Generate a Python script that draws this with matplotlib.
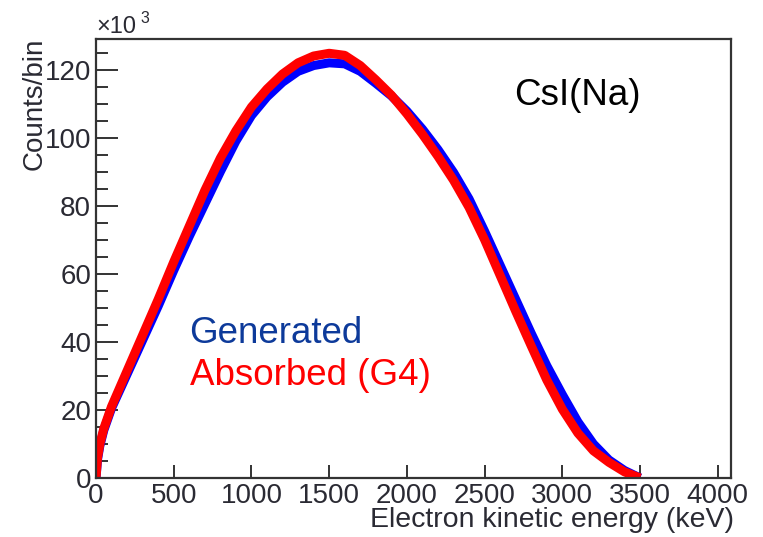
import numpy as np
import matplotlib
matplotlib.use('Agg')
import matplotlib.pyplot as plt

plt.rcParams['font.family'] = ['Liberation Sans', 'DejaVu Sans']

# energies in keV, counts in units of 10^3
energy = [0, 10, 25, 50, 100, 200, 300, 400, 500, 600, 700, 800, 900, 1000, 1100, 1200,
          1300, 1400, 1500, 1600, 1700, 1800, 1900, 2000, 2100, 2200, 2300, 2400,
          2500, 2600, 2700, 2800, 2900, 3000, 3100, 3200, 3300, 3400, 3500]
generated = [0, 5.5, 9.5, 14, 20.5, 30.5, 40.5, 50.5, 61, 71, 80.5, 90, 99, 106.5, 112, 116.3,
             119.5, 121.2, 122, 121.7, 119.5, 116, 112.3, 107.8, 102.5, 96.5, 89.8, 82,
             72.5, 62.5, 52.5, 42.5, 33, 24.5, 16.5, 10, 5.3, 2.2, 0]
absorbed = [0, 6, 10, 14.5, 21, 31.5, 42, 52.5, 63.5, 74, 84.5, 94, 102, 109, 114.3, 118.7,
            122, 124, 124.8, 124.2, 121.2, 117, 112.5, 107, 101, 94.5, 87.5, 79.5,
            70, 59.5, 49, 38.8, 28.8, 20.2, 13.2, 8, 4.6, 1.8, 0]

W, H = 763, 537
fig = plt.figure(figsize=(W / 100, H / 100), dpi=100)
ax = fig.add_axes([96 / W, 1 - 478 / H, (731 - 96) / W, (478 - 39) / H])

ax.plot(energy, generated, color='#0000ff', lw=6.5, solid_capstyle='butt')
ax.plot(energy, absorbed, color='#ff0000', lw=6.5, solid_capstyle='butt')

ax.set_xlim(0, 4085)
ax.set_ylim(0, 129)
ax.set_xticks(np.arange(0, 4001, 500))
ax.set_yticks(np.arange(0, 121, 20))
ax.set_yticks(np.arange(0, 129, 5), minor=True)

for s in ax.spines.values():
    s.set_linewidth(1.6)
    s.set_color('#333333')

txt = '#2a2a33'
ax.tick_params(axis='y', which='major', direction='in', length=16, width=1.4,
               color='#333333', labelsize=20, labelcolor=txt, pad=3.5)
ax.tick_params(axis='y', which='minor', direction='in', length=8.5, width=1.4,
               color='#333333')
ax.tick_params(axis='x', which='major', direction='in', length=9.5, width=1.4,
               color='#333333', labelsize=20, labelcolor=txt, pad=3.5)

fig.text(734 / W, 1 - 527 / H, 'Electron kinetic energy (keV)', ha='right', va='baseline',
         fontsize=20.5, color=txt)
fig.text(42 / W, 1 - 38 / H, 'Counts/bin', rotation=90, ha='right', va='baseline',
         fontsize=20, color=txt, rotation_mode='anchor')
fig.text(96 / W, 1 - 33 / H, '\u00d710', ha='left', va='baseline', fontsize=17, color=txt)
fig.text(140 / W, 1 - 23 / H, '3', ha='left', va='baseline', fontsize=11.5, color=txt)

fig.text(514 / W, 1 - 105 / H, 'CsI(Na)', ha='left', va='baseline', fontsize=26.5, color='black')
fig.text(189 / W, 1 - 343 / H, 'Generated', ha='left', va='baseline', fontsize=26.5, color='#0d3a9a')
fig.text(190 / W, 1 - 385 / H, 'Absorbed (G4)', ha='left', va='baseline', fontsize=26.5, color='#ff0000')

fig.savefig('out.png', dpi=100)
